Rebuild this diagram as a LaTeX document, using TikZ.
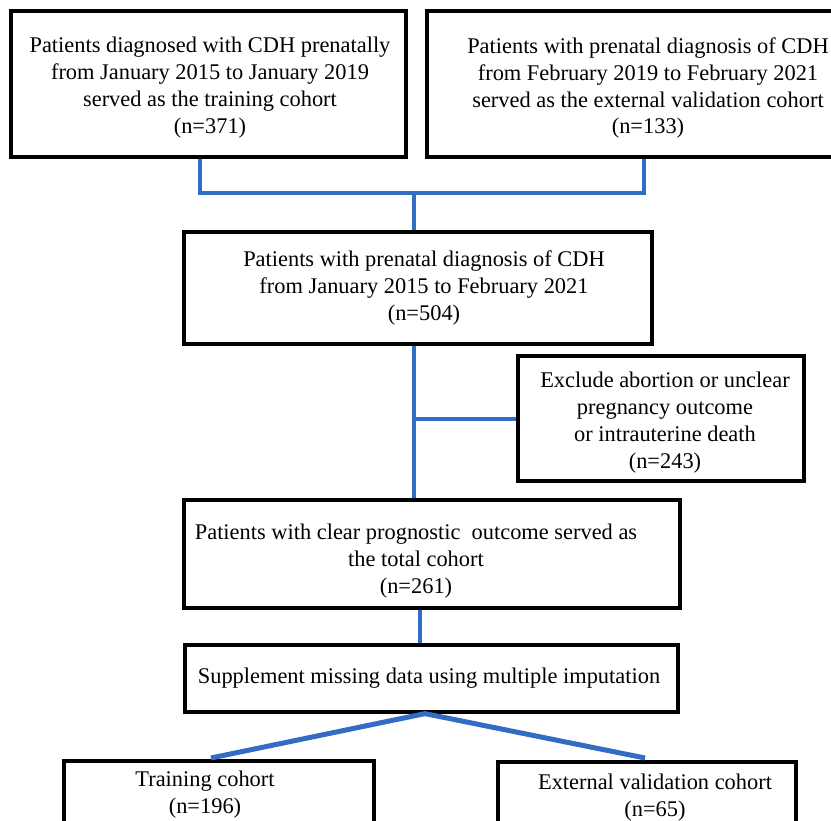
\documentclass[tikz,border=0pt]{standalone}
\usepackage{fontspec}
\setmainfont{Liberation Serif}
\definecolor{lineblue}{RGB}{51,108,196}
\begin{document}
\begin{tikzpicture}[x=1pt,y=-1pt,
  box/.style={draw=black,line width=3.2pt,rectangle,inner sep=0pt},
  txt/.style={align=center,inner sep=0pt,font=\fontsize{22.4pt}{27pt}\selectfont},
  conn/.style={draw=lineblue,line width=4pt},
  diag/.style={draw=lineblue,line width=5pt}]
\useasboundingbox (0,0) rectangle (831,821);
\fill[white] (0,0) rectangle (831,821);
% boxes
\node[box,minimum width=395pt,minimum height=146pt] (b1) at (208.5,84) {};
\node[box,minimum width=453pt,minimum height=146pt] (b2) at (653.5,84) {};
\node[box,minimum width=468pt,minimum height=112pt] (b3) at (418,288) {};
\node[box,minimum width=286pt,minimum height=125pt] (b4) at (661,418.5) {};
\node[box,minimum width=496pt,minimum height=108pt] (b5) at (432,554) {};
\node[box,minimum width=493pt,minimum height=67pt] (b6) at (431.5,678.5) {};
\node[box,minimum width=310pt,minimum height=100pt] (b7) at (219,811) {};
\node[box,minimum width=298pt,minimum height=100pt] (b8) at (647,812) {};
% texts
\node[txt] (t1) at (210,88) {Patients diagnosed with CDH prenatally\\from January 2015 to January 2019\\served as the training cohort\\(n=371)};
\node[txt] (t2) at (648,88) {Patients with prenatal diagnosis of CDH\\from February 2019 to February 2021\\served as the external validation cohort\\(n=133)};
\node[txt] (t3) at (424,288) {Patients with prenatal diagnosis of CDH\\from January 2015 to February 2021\\(n=504)};
\node[txt] (t4) at (665,423) {Exclude abortion or unclear\\pregnancy outcome\\or intrauterine death\\(n=243)};
\node[txt] (t5) at (416,561) {Patients with clear prognostic\ \ outcome served as\\the total cohort\\(n=261)};
\node[txt] (t6) at (429,678) {Supplement missing data using multiple imputation};
\node[txt] (t7) at (205,795) {Training cohort\\(n=196)};
\node[txt] (t8) at (655,798) {External validation cohort\\(n=65)};
% connector coordinates
\coordinate (jl) at (200,193);
\coordinate (jr) at (644,193);
\coordinate (jm) at (414,193);
\coordinate (jb) at (414,419);
\coordinate (jc) at (420,0);
\coordinate (apex) at (425,0);
\coordinate (dl) at (211,758);
\coordinate (dr) at (645,758);
% connectors
\draw[conn] (b1.south -| jl) -- (jl) -- (jr) -- (b2.south -| jr);
\draw[conn] (jm) -- (b3.north -| jm);
\draw[conn] (b3.south -| jm) -- (b5.north -| jm);
\draw[conn] (jb) -- (b4.west |- jb);
\draw[conn] (b5.south -| jc) -- (b6.north -| jc);
\draw[diag] (dl) -- (b6.south -| apex) -- (dr);
\end{tikzpicture}
\end{document}
